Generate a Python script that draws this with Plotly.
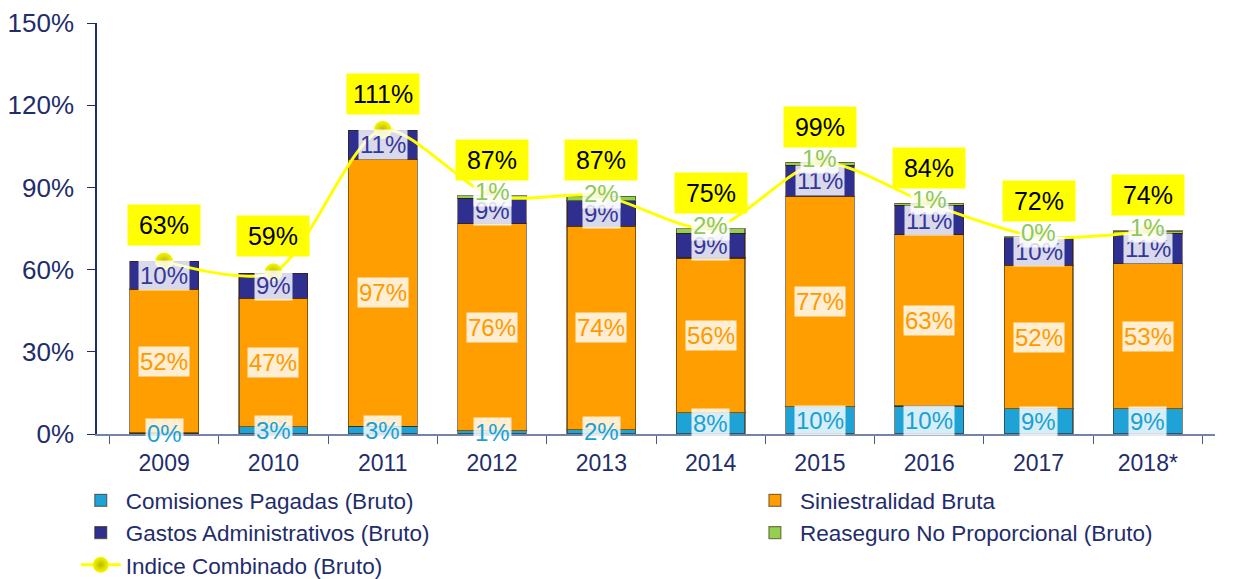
import plotly.graph_objects as go

# datos (porcentaje sobre primas)
anios = ['2009', '2010', '2011', '2012', '2013', '2014', '2015', '2016', '2017', '2018*']
comisiones = [0.4, 2.6, 2.8, 1.2, 1.6, 7.8, 10.0, 10.2, 9.3, 9.3]
siniestralidad = [52.4, 46.9, 97.4, 75.6, 74.2, 56.4, 76.8, 62.6, 52.2, 52.8]
gastos = [10.2, 9.2, 10.6, 9.2, 9.3, 9.0, 11.2, 10.6, 10.2, 11.2]
reaseguro = [None, None, None, 1.0, 1.6, 1.8, 1.2, 0.8, 0.3, 0.8]
indice = [63, 59, 111, 87, 87, 75, 99, 84, 72, 74]

FONT = 'Liberation Sans, Arial, sans-serif'
NAVY = '#1F2D6B'

# nombre, valores, color barra, color texto, leyenda
series = [
    ('Comisiones Pagadas (Bruto)', comisiones, '#1FA3D6', '#1AA0D2', 'legend'),
    ('Siniestralidad Bruta', siniestralidad, '#FF9E00', '#FF9900', 'legend2'),
    ('Gastos Administrativos (Bruto)', gastos, '#2E2F8F', '#35379A', 'legend'),
    ('Reaseguro No Proporcional (Bruto)', reaseguro, '#92D050', '#8CC85A', 'legend2'),
]

fig = go.Figure()

# la linea va primero para quedar detras de las barras
fig.add_trace(go.Scatter(
    x=anios, y=indice, name='Indice Combinado (Bruto)', mode='lines+markers',
    line=dict(color='#FFFF00', width=3, shape='spline', smoothing=0.8),
    marker=dict(size=18, color='#F8F800', line=dict(width=0),
                gradient=dict(type='radial', color='#B8B800')),
    legend='legend', legendrank=5, hoverinfo='skip'
))

base = [0.0] * len(anios)
for k, (nombre, vals, color, txtcolor, leg) in enumerate(series):
    fig.add_trace(go.Bar(
        x=anios, y=vals, name=nombre, marker_color=color,
        marker_line=dict(color='rgba(50,25,0,0.55)', width=1.2),
        legend=leg, legendrank=k + 1, hoverinfo='skip'
    ))
    for i, v in enumerate(vals):
        if v is None:
            continue
        shift = 5 if k == 3 else 0
        fig.add_annotation(
            x=i, y=base[i] + v / 2, yshift=shift, text=f'{v:.0f}%',
            showarrow=False, font=dict(family=FONT, size=24, color=txtcolor),
            bgcolor='rgba(255,255,255,0.82)', borderpad=1
        )
        base[i] += v

for i, v in enumerate(indice):
    fig.add_annotation(
        x=i, y=v, yshift=36, text=f'{v}%', showarrow=False,
        font=dict(family=FONT, size=25, color='black'),
        bgcolor='#FFFF00', width=70, height=38
    )

leg_common = dict(orientation='v', yanchor='top', y=-0.11, xanchor='left',
                  font=dict(size=22.5, color=NAVY), traceorder='normal',
                  itemwidth=40, tracegroupgap=0, bgcolor='rgba(0,0,0,0)')

fig.update_layout(
    barmode='stack', bargap=0.37,
    width=1235, height=579,
    margin=dict(l=97, r=20, t=23, b=145, autoexpand=False),
    plot_bgcolor='white', paper_bgcolor='white',
    font=dict(family=FONT, color=NAVY),
    showlegend=True,
    legend=dict(x=-0.019, **leg_common),
    legend2=dict(x=0.584, **leg_common),
    xaxis=dict(type='category', showline=True, linecolor='#7483A8', linewidth=1.5,
               ticks='outside', tickson='boundaries', ticklen=8, tickcolor='#4A5683',
               ticklabelstandoff=8, automargin=False,
               tickfont=dict(size=23, color=NAVY), showgrid=False),
    yaxis=dict(range=[0, 150], dtick=30, ticksuffix='%', showline=True,
               linecolor=NAVY, linewidth=1.5, ticks='outside', ticklen=8,
               tickcolor=NAVY, ticklabelstandoff=8, automargin=False,
               tickfont=dict(size=26, color=NAVY),
               showgrid=False, zeroline=False),
)

# sin margen del body para que la figura ocupe la ventana completa
fig.write_html('out.html', config={'displayModeBar': False},
               post_script="document.body.style.margin='0';")
